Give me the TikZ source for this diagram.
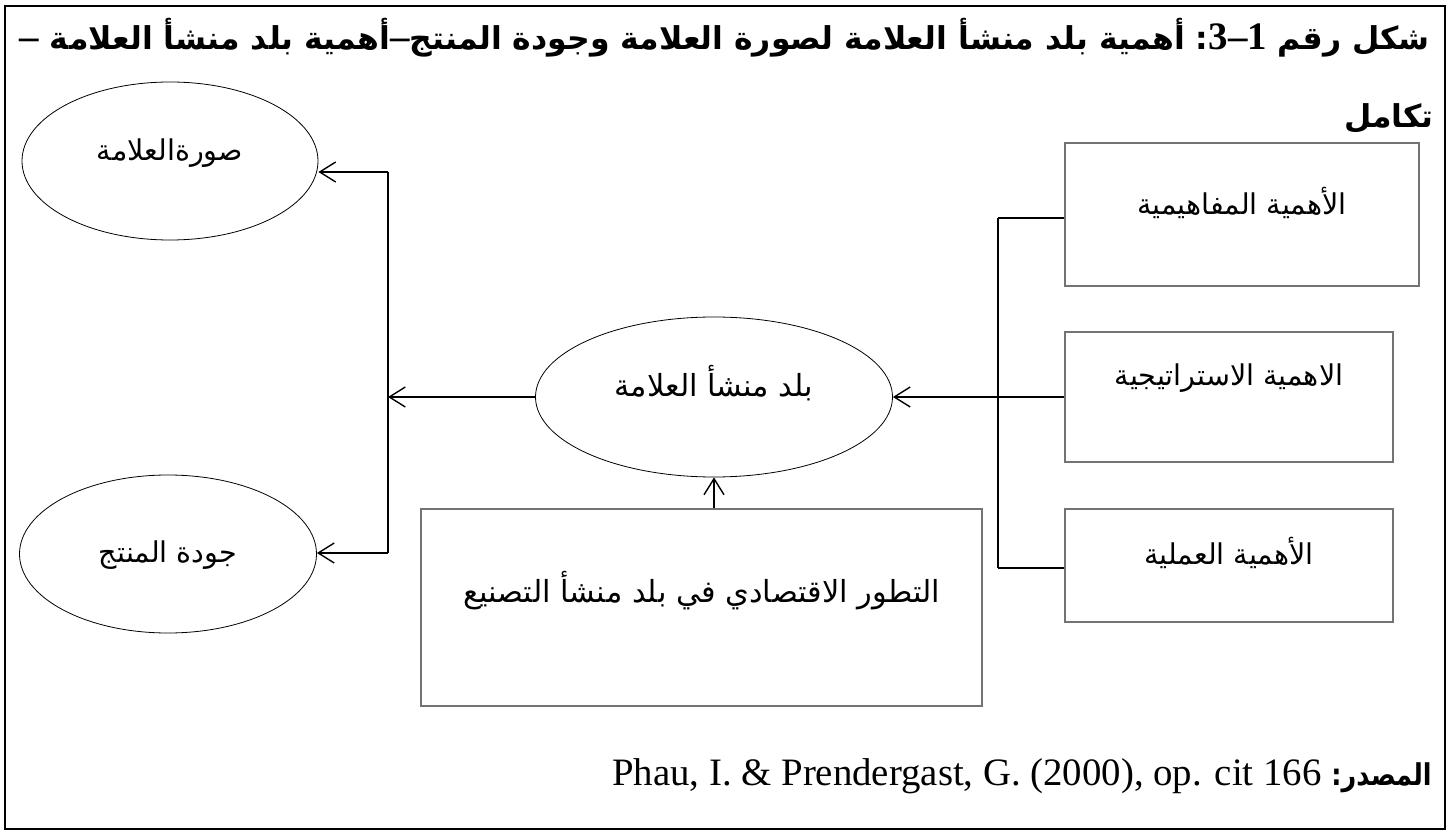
\documentclass[tikz,border=0pt]{standalone}
\usepackage{fontspec}
\setmainfont{Liberation Serif}
\newfontfamily\arabicfont[Script=Arabic]{DejaVu Sans}
\TeXXeTstate=1
\usetikzlibrary{shapes.geometric,arrows.meta}

% font switches
\newcommand\ttlfont{\arabicfont\bfseries\fontsize{17}{20}\selectfont}
\newcommand\lblfont{\arabicfont\fontsize{14.3}{16}\selectfont}
\newcommand\biglblfont{\arabicfont\fontsize{15.2}{17}\selectfont}
\newcommand\latbold{\rmfamily\bfseries\fontsize{21}{24}\selectfont}
\newsavebox\ttlbox
\newsavebox\ttlboxb

\begin{document}
% caption lines, measured so that the first one fills the line width
\sbox\ttlbox{\ttlfont\beginR شكل رقم \hbox{\latbold 1}\hbox{\latbold –}\hbox{\latbold 3}\hbox{:} أهمية بلد منشأ العلامة لصورة العلامة وجودة المنتج\hbox{\latbold –}أهمية بلد منشأ العلامة \hbox{\latbold –}\endR}%
\sbox\ttlboxb{\ttlfont\beginR تكامل\endR}%
\begin{tikzpicture}[x=0.5pt,y=-0.5pt,
  ell/.style={ellipse,draw=black,line width=0.4pt,inner sep=0pt},
  boxst/.style={rectangle,draw=black!55,line width=0.6pt,inner sep=0pt},
  lbl/.style={font=\lblfont,inner sep=0pt},
  biglbl/.style={font=\biglblfont,inner sep=0pt},
  conn/.style={line width=0.9pt},
  arr/.style={conn,-{Straight Barb[length=8pt,width=10pt,line width=0.7pt]}},
]
\pgfmathsetmacro\ttlscale{705/\wd\ttlbox}
\useasboundingbox (0,0) rectangle (1452,834);
% outer frame
\draw[line width=1.4pt] (5,6) rectangle (1445,829);

% caption, two lines, right aligned
\node[anchor=base east,inner sep=0pt] (title) at (1430,50)
  {\scalebox{\ttlscale}{\usebox\ttlbox}};
\node[anchor=base east,inner sep=0pt] (title2) at (1434,128)
  {\scalebox{\ttlscale}{\usebox\ttlboxb}};

% ellipses
\node[ell,minimum width=148pt,minimum height=79pt] (img) at (170,161) {};
\node[lbl] (imgtxt) at (170,153) {\beginR صورةالعلامة\endR};
\node[ell,minimum width=148.5pt,minimum height=79pt] (qual) at (168,554) {};
\node[lbl] (qualtxt) at (168,555) {\beginR جودة المنتج\endR};
\node[ell,minimum width=178.5pt,minimum height=80pt] (coo) at (714,397) {};
\node[biglbl] (cootxt) at (714,383) {\beginR بلد منشأ العلامة\endR};

% boxes
\node[boxst,minimum width=280.5pt,minimum height=98.5pt] (econ) at (701.5,607.5) {};
\node[biglbl] (econtxt) at (701.5,591) {\beginR التطور الاقتصادي في بلد منشأ التصنيع\endR};
\node[boxst,minimum width=177pt,minimum height=71.5pt] (concept) at (1242,214.5) {};
\node[lbl] (concepttxt) at (1242,203) {\beginR الأهمية المفاهيمية\endR};
\node[boxst,minimum width=164pt,minimum height=65pt] (strat) at (1229,397) {};
\node[lbl] (strattxt) at (1229,378) {\beginR الاهمية الاستراتيجية\endR};
\node[boxst,minimum width=164pt,minimum height=56.5pt] (pract) at (1229,565.5) {};
\node[lbl] (practtxt) at (1229,553) {\beginR الأهمية العملية\endR};

% left distribution bar
\coordinate (lbTop) at (388,172);
\coordinate (lbMid) at (388,397);
\coordinate (lbBot) at (388,553);
\draw[conn] (lbTop) -- (lbBot);
\draw[arr] (coo.west) -- (lbMid);
\draw[arr] (lbTop) -- (img.east |- lbTop);
\draw[arr] (lbBot) -- (qual.east |- lbBot);

% right collecting bar
\coordinate (rbTop) at (998,218);
\coordinate (rbBot) at (998,568);
\draw[conn] (rbTop) -- (rbBot);
\draw[conn] (rbTop) -- (concept.west |- rbTop);
\draw[conn] (rbBot) -- (pract.west |- rbBot);
\draw[arr] (strat.west) -- (coo.east);

% economic development feeds the country of origin
\draw[arr] (econ.north -| coo.south) -- (coo.south);

% source line: bold Arabic label, then the reference in Latin type
\node[anchor=base east,inner sep=0pt] (srclabel) at (1432,785)
  {\scalebox{0.85}[1]{\arabicfont\bfseries\fontsize{15}{18}\selectfont\beginR المصدر:\endR}};
\node[anchor=base east,inner sep=0pt,xshift=-4.5pt] (srcref) at (srclabel.base west)
  {\rmfamily\fontsize{19.4}{24}\selectfont Phau, I. \& Prendergast, G. (2000), op. cit 166};
\end{tikzpicture}
\end{document}
